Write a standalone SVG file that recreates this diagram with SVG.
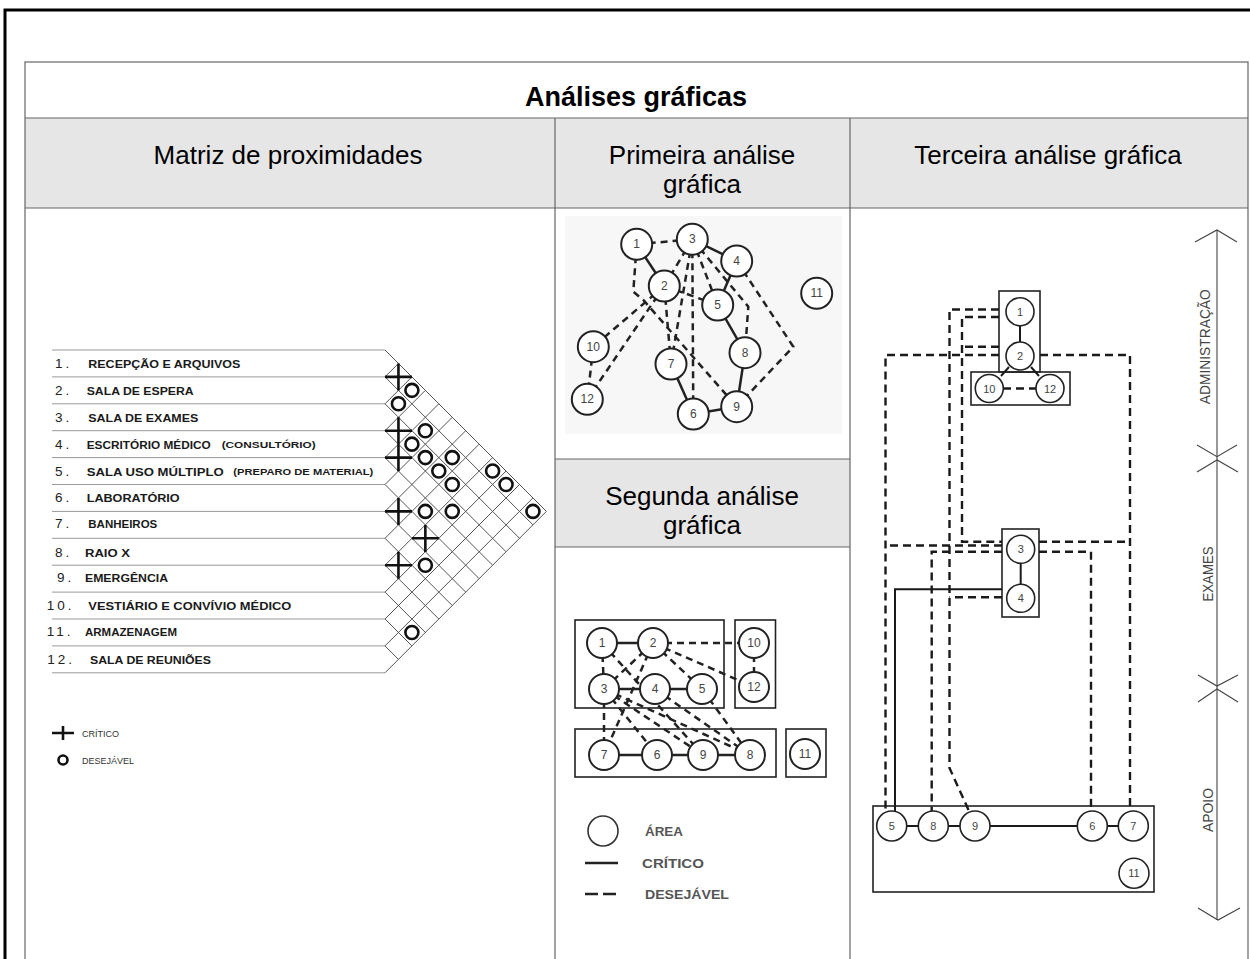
<svg xmlns="http://www.w3.org/2000/svg" width="1250" height="959" viewBox="0 0 1250 959">
<style>
text{font-family:"Liberation Sans",Arial,Helvetica,sans-serif}
.hdr{font-size:26px;fill:#000;text-anchor:middle}
.ttl{font-size:27px;font-weight:bold;fill:#000;text-anchor:middle}
.tb{fill:none;stroke:#666;stroke-width:1.2}
.grid{stroke:#555;stroke-width:1;fill:none}
.row{stroke:#999;stroke-width:1}
.mx{font-size:11px;font-weight:bold;fill:#1a1a1a}
.mxs{font-size:8.5px;font-weight:bold;fill:#1a1a1a}
.mn{font-size:13.5px;fill:#222;letter-spacing:3px}
.cr{stroke:#111;stroke-width:2.6;fill:none}
.ci{stroke:#111;stroke-width:2.6;fill:none}
.nd circle{fill:#fff;stroke:#222;stroke-width:2}
.nd3 circle{fill:#fff;stroke:#222;stroke-width:1.6}
.nt{font-size:12px;fill:#444;text-anchor:middle;dominant-baseline:central}
.nts{font-size:11px;fill:#444;text-anchor:middle;dominant-baseline:central}
.sol{stroke:#222;stroke-width:2.5;fill:none}
.das{stroke:#222;stroke-width:2.5;fill:none;stroke-dasharray:7 5}
.sol3{stroke:#1a1a1a;stroke-width:2;fill:none}
.das3{stroke:#1a1a1a;stroke-width:2.4;fill:none;stroke-dasharray:8 5}
.box{fill:none;stroke:#222;stroke-width:1.6}
.lg{font-size:13px;font-weight:bold;fill:#555}
.lgm{font-size:9px;fill:#333}
.ax{stroke:#444;stroke-width:1.1;fill:none}
.axt{font-size:14px;fill:#444;text-anchor:middle}
</style>

<!-- outer frame -->
<rect x="5" y="10" width="1260" height="960" fill="#fff" stroke="#000" stroke-width="3"/>

<!-- table structure -->
<g id="table">
  <rect x="25" y="118" width="1223" height="90" fill="#e6e6e6"/>
  <rect x="555" y="459" width="295" height="88" fill="#e6e6e6"/>
  <rect x="565" y="216" width="277" height="218" fill="#f7f7f7"/>
  <rect class="tb" x="25" y="62" width="1223" height="910"/>
  <line class="tb" x1="25" y1="118" x2="1248" y2="118"/>
  <line class="tb" x1="25" y1="208" x2="1248" y2="208"/>
  <line class="tb" x1="555" y1="118" x2="555" y2="970"/>
  <line class="tb" x1="850" y1="118" x2="850" y2="970"/>
  <line class="tb" x1="555" y1="459" x2="850" y2="459"/>
  <line class="tb" x1="555" y1="547" x2="850" y2="547"/>
  <text class="ttl" x="636" y="106">Análises gráficas</text>
  <text class="hdr" x="288" y="164">Matriz de proximidades</text>
  <text class="hdr" x="702" y="164">Primeira análise</text>
  <text class="hdr" x="702" y="193">gráfica</text>
  <text class="hdr" x="1048" y="164">Terceira análise gráfica</text>
  <text class="hdr" x="702" y="505">Segunda análise</text>
  <text class="hdr" x="702" y="534">gráfica</text>
</g>

<!-- proximity matrix -->
<g id="matrix">
  <g id="matrix-rows">
    <line class="row" x1="52" y1="350" x2="385" y2="350"/>
    <line class="row" x1="52" y1="376.9" x2="385" y2="376.9"/>
    <line class="row" x1="52" y1="403.8" x2="385" y2="403.8"/>
    <line class="row" x1="52" y1="430.7" x2="385" y2="430.7"/>
    <line class="row" x1="52" y1="457.6" x2="385" y2="457.6"/>
    <line class="row" x1="52" y1="484.5" x2="385" y2="484.5"/>
    <line class="row" x1="52" y1="511.4" x2="385" y2="511.4"/>
    <line class="row" x1="52" y1="538.3" x2="385" y2="538.3"/>
    <line class="row" x1="52" y1="565.2" x2="385" y2="565.2"/>
    <line class="row" x1="52" y1="592.1" x2="385" y2="592.1"/>
    <line class="row" x1="52" y1="619" x2="385" y2="619"/>
    <line class="row" x1="52" y1="645.9" x2="385" y2="645.9"/>
    <line class="row" x1="52" y1="672.8" x2="385" y2="672.8"/>
  </g>
  <g id="matrix-labels">
    <text class="mn" x="55" y="368">1.</text>
    <text class="mx" x="88.3" y="368" textLength="152" lengthAdjust="spacingAndGlyphs">RECEPÇÃO E ARQUIVOS</text>
    <text class="mn" x="55" y="394.9">2.</text>
    <text class="mx" x="86.7" y="394.9" textLength="107" lengthAdjust="spacingAndGlyphs">SALA DE ESPERA</text>
    <text class="mn" x="55" y="421.8">3.</text>
    <text class="mx" x="88.3" y="421.8" textLength="110" lengthAdjust="spacingAndGlyphs">SALA DE EXAMES</text>
    <text class="mn" x="55" y="448.7">4.</text>
    <text class="mx" x="86.7" y="448.7" textLength="124" lengthAdjust="spacingAndGlyphs">ESCRITÓRIO MÉDICO</text>
    <text class="mxs" x="221.7" y="447.7" textLength="94" lengthAdjust="spacingAndGlyphs">(CONSULTÓRIO)</text>
    <text class="mn" x="55" y="475.6">5.</text>
    <text class="mx" x="86.7" y="475.6" textLength="137" lengthAdjust="spacingAndGlyphs">SALA USO MÚLTIPLO</text>
    <text class="mxs" x="233.3" y="474.6" textLength="140" lengthAdjust="spacingAndGlyphs">(PREPARO DE MATERIAL)</text>
    <text class="mn" x="55" y="502">6.</text>
    <text class="mx" x="86.7" y="502" textLength="93" lengthAdjust="spacingAndGlyphs">LABORATÓRIO</text>
    <text class="mn" x="55" y="528">7.</text>
    <text class="mx" x="88.3" y="528" textLength="69" lengthAdjust="spacingAndGlyphs">BANHEIROS</text>
    <text class="mn" x="55" y="557">8.</text>
    <text class="mx" x="85" y="557" textLength="45" lengthAdjust="spacingAndGlyphs">RAIO X</text>
    <text class="mn" x="57" y="582">9.</text>
    <text class="mx" x="85" y="582" textLength="83" lengthAdjust="spacingAndGlyphs">EMERGÊNCIA</text>
    <text class="mn" x="46.7" y="610">10.</text>
    <text class="mx" x="88.3" y="610" textLength="203" lengthAdjust="spacingAndGlyphs">VESTIÁRIO E CONVÍVIO MÉDICO</text>
    <text class="mn" x="46.7" y="636">11.</text>
    <text class="mx" x="85" y="636" textLength="92" lengthAdjust="spacingAndGlyphs">ARMAZENAGEM</text>
    <text class="mn" x="47.3" y="664">12.</text>
    <text class="mx" x="90" y="664" textLength="121" lengthAdjust="spacingAndGlyphs">SALA DE REUNIÕES</text>
  </g>
  <g id="matrix-grid" class="grid">
    <path d="M385,350L546.4,511.4M385,376.9L532.95,524.85M385,403.8L519.5,538.3M385,430.7L506.05,551.75M385,457.6L492.6,565.2M385,484.5L479.15,578.65M385,511.4L465.7,592.1M385,538.3L452.25,605.55M385,565.2L438.8,619M385,592.1L425.35,632.45M385,619L411.9,645.9M385,645.9L398.45,659.35"/>
    <path d="M385,376.9L398.45,363.45M385,403.8L411.9,376.9M385,430.7L425.35,390.35M385,457.6L438.8,403.8M385,484.5L452.25,417.25M385,511.4L465.7,430.7M385,538.3L479.15,444.15M385,565.2L492.6,457.6M385,592.1L506.05,471.05M385,619L519.5,484.5M385,645.9L532.95,497.95M385,672.8L546.4,511.4"/>
  </g>
  <g id="matrix-critical" class="cr">
    <path d="M385,376.9h27M398.45,363.5v27"/>
    <path d="M385,430.7h27M398.45,417.3v27"/>
    <path d="M385,457.6h27M398.45,444.2v27"/>
    <path d="M385,511.4h27M398.45,498v27"/>
    <path d="M411.9,538.3h27M425.35,524.9v27"/>
    <path d="M385,565.2h27M398.45,551.8v27"/>
  </g>
  <g id="matrix-desirable" class="ci">
    <circle cx="411.9" cy="390.35" r="6.5"/>
    <circle cx="398.45" cy="403.8" r="6.5"/>
    <circle cx="425.35" cy="430.7" r="6.5"/>
    <circle cx="411.9" cy="444.15" r="6.5"/>
    <circle cx="425.35" cy="457.6" r="6.5"/>
    <circle cx="452.25" cy="457.6" r="6.5"/>
    <circle cx="438.8" cy="471.05" r="6.5"/>
    <circle cx="452.25" cy="484.5" r="6.5"/>
    <circle cx="492.6" cy="471.05" r="6.5"/>
    <circle cx="506.05" cy="484.5" r="6.5"/>
    <circle cx="425.35" cy="511.4" r="6.5"/>
    <circle cx="452.25" cy="511.4" r="6.5"/>
    <circle cx="532.95" cy="511.4" r="6.5"/>
    <circle cx="425.35" cy="565.2" r="6.5"/>
    <circle cx="411.9" cy="632.45" r="6.5"/>
  </g>
  <g id="matrix-legend">
    <path class="cr" d="M52,733h22M63,726v14" stroke-width="2"/>
    <text class="lgm" x="82" y="737">CRÍTICO</text>
    <circle class="ci" cx="63" cy="760" r="4.5" stroke-width="2.2"/>
    <text class="lgm" x="82" y="764">DESEJÁVEL</text>
  </g>
</g>

<!-- first graphic analysis -->
<g id="analysis1">
  <g id="a1-connectors">
    <path class="das" d="M636.7,244.3L692.3,239.3"/>
    <path class="das" d="M692.3,239.3L664.3,286"/>
    <path class="das" d="M692.3,239.3L717.7,305"/>
    <path class="das" d="M692.3,239.3L671,364"/>
    <path class="das" d="M692.3,239.3L693.3,414"/>
    <path class="das" d="M692.3,239.3L748.3,306.7L745,352.7"/>
    <path class="das" d="M736.7,261L793.3,346.7L736.7,406.7"/>
    <path class="das" d="M636.7,244.3L633.3,291.7L643.3,300L736.7,406.7"/>
    <path class="das" d="M664.3,286L671,364"/>
    <path class="das" d="M664.3,286L593.3,346.7"/>
    <path class="das" d="M664.3,286L587.3,399.3"/>
    <path class="das" d="M593.3,346.7L587.3,399.3"/>
    <path class="das" d="M664.3,286L717.7,305"/>
    <path class="sol" d="M636.7,244.3L664.3,286"/>
    <path class="sol" d="M692.3,239.3L736.7,261"/>
    <path class="sol" d="M736.7,261L717.7,305"/>
    <path class="sol" d="M717.7,305L745,352.7"/>
    <path class="sol" d="M745,352.7L736.7,406.7"/>
    <path class="sol" d="M736.7,406.7L693.3,414"/>
    <path class="sol" d="M693.3,414L671,364"/>
  </g>
  <g id="a1-n1" class="nd"><circle cx="636.7" cy="244.3" r="15.5"/><text class="nt" x="636.7" y="244.3">1</text></g>
  <g id="a1-n2" class="nd"><circle cx="664.3" cy="286" r="15.5"/><text class="nt" x="664.3" y="286">2</text></g>
  <g id="a1-n3" class="nd"><circle cx="692.3" cy="239.3" r="15.5"/><text class="nt" x="692.3" y="239.3">3</text></g>
  <g id="a1-n4" class="nd"><circle cx="736.7" cy="261" r="15.5"/><text class="nt" x="736.7" y="261">4</text></g>
  <g id="a1-n5" class="nd"><circle cx="717.7" cy="305" r="15.5"/><text class="nt" x="717.7" y="305">5</text></g>
  <g id="a1-n6" class="nd"><circle cx="693.3" cy="414" r="15.5"/><text class="nt" x="693.3" y="414">6</text></g>
  <g id="a1-n7" class="nd"><circle cx="671" cy="364" r="15.5"/><text class="nt" x="671" y="364">7</text></g>
  <g id="a1-n8" class="nd"><circle cx="745" cy="352.7" r="15.5"/><text class="nt" x="745" y="352.7">8</text></g>
  <g id="a1-n9" class="nd"><circle cx="736.7" cy="406.7" r="15.5"/><text class="nt" x="736.7" y="406.7">9</text></g>
  <g id="a1-n10" class="nd"><circle cx="593.3" cy="346.7" r="15.5"/><text class="nt" x="593.3" y="346.7">10</text></g>
  <g id="a1-n11" class="nd"><circle cx="816.7" cy="293.3" r="15.5"/><text class="nt" x="816.7" y="293.3">11</text></g>
  <g id="a1-n12" class="nd"><circle cx="587.3" cy="399.3" r="15.5"/><text class="nt" x="587.3" y="399.3">12</text></g>
</g>

<!-- second graphic analysis -->
<g id="analysis2">
  <g id="a2-zones">
    <rect class="box" x="575" y="620" width="149" height="88"/>
    <rect class="box" x="735" y="620" width="40.5" height="88"/>
    <rect class="box" x="575" y="729" width="201" height="48"/>
    <rect class="box" x="786" y="729" width="40" height="48"/>
  </g>
  <g id="a2-connectors">
    <path class="das" d="M653,643L754,643"/>
    <path class="das" d="M754,643L754,687"/>
    <path class="das" d="M653,643L754,687"/>
    <path class="das" d="M653,643L702,689"/>
    <path class="das" d="M653,643L604,689"/>
    <path class="das" d="M653,643L604,755"/>
    <path class="das" d="M602,643L604,689"/>
    <path class="das" d="M602,643L703,755"/>
    <path class="das" d="M604,689L604,755"/>
    <path class="das" d="M604,689L657,755"/>
    <path class="das" d="M604,689L750,755"/>
    <path class="das" d="M604,689L703,755"/>
    <path class="das" d="M655,689L750,755"/>
    <path class="das" d="M702,689L750,755"/>
    <path class="sol" d="M602,643L653,643"/>
    <path class="sol" d="M604,689L702,689"/>
    <path class="sol" d="M604,755L750,755"/>
  </g>
  <g id="a2-n1" class="nd"><circle cx="602" cy="643" r="15"/><text class="nt" x="602" y="643">1</text></g>
  <g id="a2-n2" class="nd"><circle cx="653" cy="643" r="15"/><text class="nt" x="653" y="643">2</text></g>
  <g id="a2-n10" class="nd"><circle cx="754" cy="643" r="15"/><text class="nt" x="754" y="643">10</text></g>
  <g id="a2-n3" class="nd"><circle cx="604" cy="689" r="15"/><text class="nt" x="604" y="689">3</text></g>
  <g id="a2-n4" class="nd"><circle cx="655" cy="689" r="15"/><text class="nt" x="655" y="689">4</text></g>
  <g id="a2-n5" class="nd"><circle cx="702" cy="689" r="15"/><text class="nt" x="702" y="689">5</text></g>
  <g id="a2-n12" class="nd"><circle cx="754" cy="687" r="15"/><text class="nt" x="754" y="687">12</text></g>
  <g id="a2-n7" class="nd"><circle cx="604" cy="755" r="15"/><text class="nt" x="604" y="755">7</text></g>
  <g id="a2-n6" class="nd"><circle cx="657" cy="755" r="15"/><text class="nt" x="657" y="755">6</text></g>
  <g id="a2-n9" class="nd"><circle cx="703" cy="755" r="15"/><text class="nt" x="703" y="755">9</text></g>
  <g id="a2-n8" class="nd"><circle cx="750" cy="755" r="15"/><text class="nt" x="750" y="755">8</text></g>
  <g id="a2-n11" class="nd"><circle cx="805" cy="754" r="15"/><text class="nt" x="805" y="754">11</text></g>
  <g id="a2-legend">
    <circle cx="603" cy="831" r="15" fill="none" stroke="#333" stroke-width="1.6"/>
    <text class="lg" x="645" y="836" textLength="38" lengthAdjust="spacingAndGlyphs">ÁREA</text>
    <line class="sol" x1="585" y1="863" x2="618" y2="863"/>
    <text class="lg" x="642" y="867.5" textLength="62" lengthAdjust="spacingAndGlyphs">CRÍTICO</text>
    <line class="sol" x1="585" y1="894" x2="620" y2="894" stroke-dasharray="13 5"/>
    <text class="lg" x="645" y="898.5" textLength="84" lengthAdjust="spacingAndGlyphs">DESEJÁVEL</text>
  </g>
</g>

<!-- third graphic analysis -->
<g id="analysis3">
  <g id="a3-zones">
    <rect class="box" x="999" y="291" width="41" height="81"/>
    <rect class="box" x="971" y="372" width="99" height="33"/>
    <rect class="box" x="1002" y="529" width="37" height="88"/>
    <rect class="box" x="873" y="806" width="281" height="86"/>
  </g>
  <g id="a3-connectors">
    <path class="das3" d="M999,309.5H949.5V768L969,811"/>
    <path class="das3" d="M999,317H962V541.7H1002"/>
    <path class="das3" d="M999,346.7H962"/>
    <path class="das3" d="M999,355H885.5V812"/>
    <path class="das3" d="M1040,355H1130V812"/>
    <path class="das3" d="M1002,545.5H885.5"/>
    <path class="das3" d="M1039,541.7H1130"/>
    <path class="das3" d="M1002,551.7H931.7V811"/>
    <path class="das3" d="M1039,551.7H1091V811"/>
    <path class="das3" d="M1002,597.3H949.5"/>
    <path class="sol3" d="M1002,589.3H895V811"/>
    <path class="das3" d="M1003,388.5H1036"/>
    <path class="sol3" d="M1020,325V343"/>
    <path class="sol3" d="M1009,367L1001,376M1031,367L1039,376" stroke-width="1.4"/>
    <path class="sol3" d="M1020.7,562V585"/>
    <path class="sol3" d="M891.7,826H1133.3"/>
  </g>
  <g id="a3-n1" class="nd3"><circle cx="1020" cy="311.7" r="14"/><text class="nts" x="1020" y="311.7">1</text></g>
  <g id="a3-n2" class="nd3"><circle cx="1020" cy="356" r="14"/><text class="nts" x="1020" y="356">2</text></g>
  <g id="a3-n10" class="nd3"><circle cx="989.3" cy="388.5" r="14"/><text class="nts" x="989.3" y="388.5">10</text></g>
  <g id="a3-n12" class="nd3"><circle cx="1050" cy="388.5" r="14"/><text class="nts" x="1050" y="388.5">12</text></g>
  <g id="a3-n3" class="nd3"><circle cx="1020.7" cy="549.3" r="14"/><text class="nts" x="1020.7" y="549.3">3</text></g>
  <g id="a3-n4" class="nd3"><circle cx="1020.7" cy="598.3" r="14"/><text class="nts" x="1020.7" y="598.3">4</text></g>
  <g id="a3-n5" class="nd3"><circle cx="891.7" cy="826" r="15"/><text class="nts" x="891.7" y="826">5</text></g>
  <g id="a3-n8" class="nd3"><circle cx="933.3" cy="826" r="15"/><text class="nts" x="933.3" y="826">8</text></g>
  <g id="a3-n9" class="nd3"><circle cx="975" cy="826" r="15"/><text class="nts" x="975" y="826">9</text></g>
  <g id="a3-n6" class="nd3"><circle cx="1092.3" cy="826" r="15"/><text class="nts" x="1092.3" y="826">6</text></g>
  <g id="a3-n7" class="nd3"><circle cx="1133.3" cy="826" r="15"/><text class="nts" x="1133.3" y="826">7</text></g>
  <g id="a3-n11" class="nd3"><circle cx="1134" cy="873.3" r="15"/><text class="nts" x="1134" y="873.3">11</text></g>
  <g id="a3-axis">
    <line class="ax" x1="1217" y1="230" x2="1217" y2="920"/>
    <path class="ax" d="M1195,242L1217,230L1237,242"/>
    <path class="ax" d="M1197,445L1217,456.7L1237,445M1197,472L1217,460L1238,472"/>
    <path class="ax" d="M1198,675L1217,686L1238,675M1198,702L1217,689L1238,702"/>
    <path class="ax" d="M1198,908L1218,920L1240,908"/>
    <text class="axt" transform="translate(1210,346.7) rotate(-90)" textLength="115" lengthAdjust="spacingAndGlyphs">ADMINISTRAÇÃO</text>
    <text class="axt" transform="translate(1213,574) rotate(-90)" textLength="55" lengthAdjust="spacingAndGlyphs">EXAMES</text>
    <text class="axt" transform="translate(1213,810) rotate(-90)" textLength="44" lengthAdjust="spacingAndGlyphs">APOIO</text>
  </g>
</g>
</svg>
